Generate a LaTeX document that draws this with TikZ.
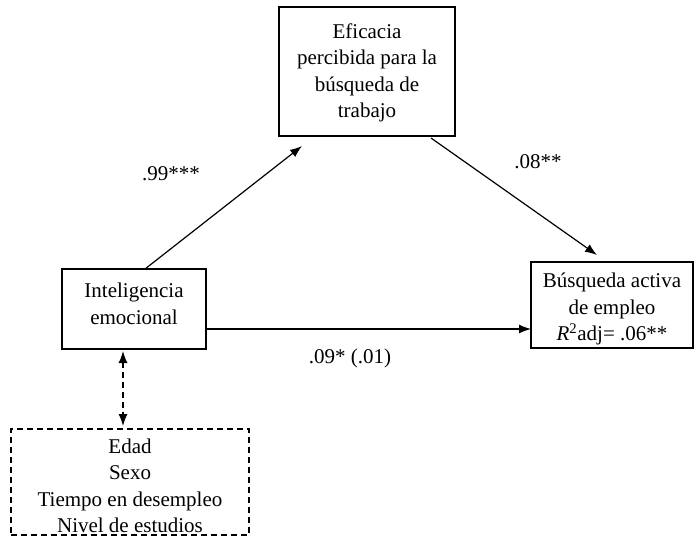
\documentclass[tikz,border=0pt]{standalone}
\usepackage{fontspec}
\setmainfont{Liberation Serif}
\usetikzlibrary{arrows.meta}
\begin{document}
\begin{tikzpicture}[x=1pt,y=-1pt,
  box/.style={draw, line width=1.2pt, inner sep=0pt},
  dbox/.style={box, dash pattern=on 6pt off 4pt},
  txt/.style={align=center, inner sep=0pt, font=\fontsize{21}{26.5}\selectfont},
  arr/.style={line width=1.2pt, -{Latex[length=12pt,width=9pt]}},
  darr/.style={line width=1.2pt, dash pattern=on 6pt off 4pt, {Latex[length=12pt,width=9pt]}-{Latex[length=12pt,width=9pt]}},
  lab/.style={font=\fontsize{21}{26}\selectfont, inner sep=0pt}]
\useasboundingbox (0,0) rectangle (698,547);
\node[box, minimum width=176pt, minimum height=129pt] (efi) at (367,71.5) {};
\node[txt] (efit) at (367,73)
  {Eficacia\\percibida para la\\búsqueda de\\trabajo};
\node[box, minimum width=144pt, minimum height=80pt] (ie) at (134,309) {};
\node[txt] (iet) at (134,304) {Inteligencia\\emocional};
\node[box, minimum width=162pt, minimum height=86pt] (bae) at (612,305) {};
\node[txt] (baet) at (612,309)
  {Búsqueda activa\\de empleo\\\textit{R}\textsuperscript{2}adj= .06**};
\node[dbox, minimum width=238pt, minimum height=106pt] (ctl) at (130,482) {};
\node[txt] (ctlt) at (130,486)
  {Edad\\Sexo\\Tiempo en desempleo\\Nivel de estudios};
\coordinate (a1) at (145,269);
\coordinate (a2) at (302,146);
\coordinate (b1) at (431,138);
\coordinate (b2) at (597,255);
\coordinate (c1) at (206,329);
\coordinate (c2) at (531,329);
\coordinate (d1) at (123,351);
\coordinate (d2) at (123,426);
\draw[arr] (a1) -- (a2);
\draw[arr] (b1) -- (b2);
\draw[arr] (c1) -- (c2);
\draw[darr] (d1) -- (d2);
\node[lab] (l1) at (171,174) {.99***};
\node[lab] (l2) at (538,162) {.08**};
\node[lab] (l3) at (350,358) {.09* (.01)};
\end{tikzpicture}
\end{document}
